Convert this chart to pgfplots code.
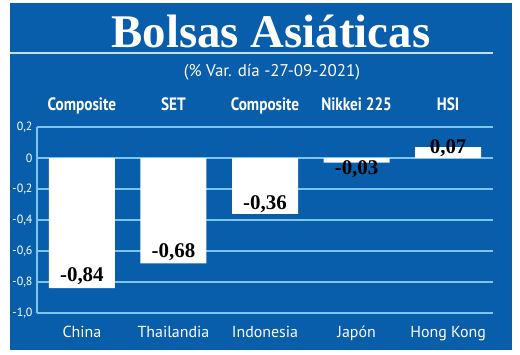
\documentclass[border=0pt]{standalone}
\usepackage{pgfplots}
\pgfplotsset{compat=1.18}
\usepackage{fontspec}
\setmainfont{PT Sans}
\newfontfamily\titlefont{Liberation Serif}
\definecolor{bgblue}{RGB}{8,94,170}
\definecolor{gridblue}{RGB}{125,196,242}
\begin{document}
\begin{tikzpicture}[x=1bp,y=1bp]
\fill[white] (0,0) rectangle (520,354);
\fill[bgblue] (10,4) rectangle (512,351);
\draw[gridblue!50!white, line width=1.2bp] (10,301) -- (493,301);
\node[white, inner sep=0pt, font=\titlefont\bfseries\fontsize{47}{47}\selectfont, anchor=base] at (271,307) {Bolsas Asiáticas};
\node[white, inner sep=0pt, font=\fontsize{17}{17}\selectfont, anchor=base] at (272,278) {(\% Var. día -27-09-2021)};
\begin{axis}[
  at={(37bp,41bp)}, anchor=south west, scale only axis,
  width=456bp, height=186bp,
  xmin=-0.49, xmax=4.49, ymin=-1, ymax=0.2,
  clip=false,
  axis x line*=bottom, axis y line*=left,
  axis line style={gridblue, line width=1.3bp, -},
  ymajorgrids, grid style={gridblue, line width=1.3bp},
  major tick length=0pt,
  ytick={-1,-0.8,-0.6,-0.4,-0.2,0,0.2},
  yticklabels={{-1,0},{-0,8},{-0,6},{-0,4},{-0,2},0,{0,2}},
  yticklabel style={white, font=\fontsize{12}{12}\selectfont, xshift=-1bp},
  xtick={0,1,2,3,4},
  xticklabels={China,Thailandia,Indonesia,Japón,Hong Kong},
  xticklabel style={white, font=\fontsize{16}{16}\selectfont, anchor=base, yshift=-24bp, inner sep=0pt},
]
\addplot[ybar, fill=white, draw=none, bar width=66bp, bar shift=0pt] coordinates {(0,-0.84) (1,-0.68) (2,-0.36) (3,-0.03) (4,0.07)};
\addplot[only marks, mark=none, nodes near coords, point meta=explicit symbolic,
  nodes near coords style={black, anchor=center, inner sep=0pt, font=\titlefont\bfseries\fontsize{21}{21}\selectfont}]
  coordinates {(0,-0.761) [{-0,84}] (1,-0.606) [{-0,68}] (2,-0.297) [{-0,36}] (3,-0.071) [{-0,03}] (4,0.065) [{0,07}]};
\foreach \i/\t in {0/Composite,1/SET,2/Composite,3/Nikkei 225,4/HSI}{
  \edef\temp{\noexpand\node[white, anchor=base, inner sep=0pt, font=\noexpand\bfseries\noexpand\fontsize{18}{18}\noexpand\selectfont] at (axis cs:\i,0.2) [yshift=17bp] {\noexpand\scalebox{0.85}[1]{\t}};}
  \temp
}
\end{axis}
\end{tikzpicture}
\end{document}
